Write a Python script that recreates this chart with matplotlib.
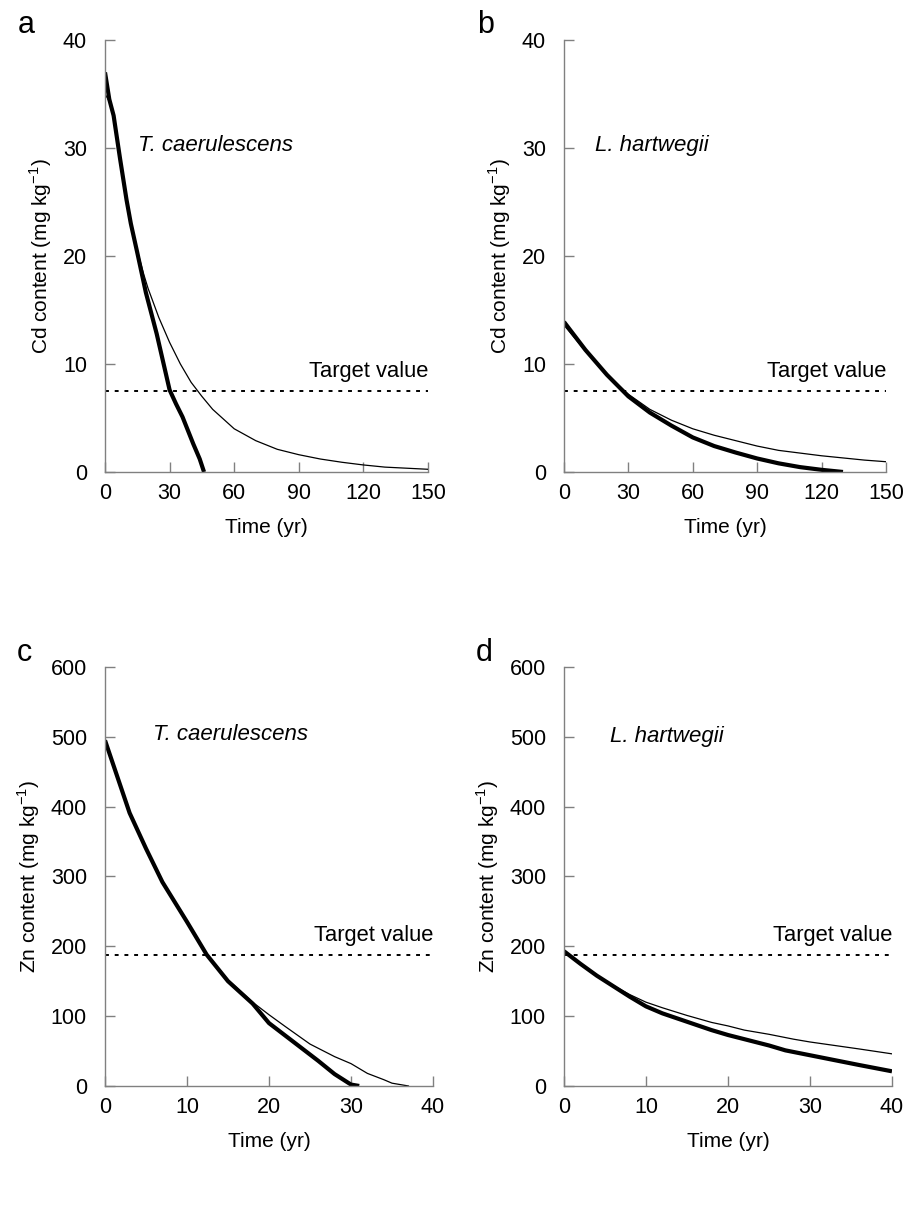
import numpy as np
import matplotlib
matplotlib.use("Agg")
import matplotlib.pyplot as plt

plt.rcParams["font.family"] = ["Liberation Sans", "DejaVu Sans"]

# ================================================================================================
# Data
# ================================================================================================
# a: Cd, T. caerulescens
a_thick_t = [0, 2, 4, 7, 10, 12, 15, 19, 24, 27, 30, 33, 36, 39, 41, 44, 46]
a_thick_c = [37.0, 34.5, 33.0, 29.0, 25.2, 23.0, 20.3, 16.6, 12.8, 10.2, 7.6, 6.3, 5.1, 3.6, 2.6, 1.2, 0.0]
a_thin_t = [0, 2, 4, 7, 10, 12, 15, 18, 20, 25, 30, 35, 40, 45, 50, 60, 70, 80, 90, 100, 110, 120, 130, 140, 150]
a_thin_c = [35.0, 34.3, 33.0, 29.0, 25.2, 23.0, 20.5, 18.3, 17.0, 14.3, 12.0, 10.0, 8.3, 7.0, 5.8,
            4.0, 2.9, 2.1, 1.6, 1.2, 0.9, 0.65, 0.45, 0.35, 0.25]

# b: Cd, L. hartwegii
b_thick_t = [0, 10, 20, 30, 40, 50, 60, 70, 80, 90, 100, 110, 120, 130]
b_thick_c = [13.9, 11.3, 9.0, 7.0, 5.5, 4.3, 3.2, 2.4, 1.8, 1.25, 0.8, 0.45, 0.2, 0.0]
b_thin_t = [0, 10, 20, 30, 40, 50, 60, 70, 80, 90, 100, 110, 120, 130, 140, 150]
b_thin_c = [13.6, 11.2, 9.0, 7.2, 5.8, 4.8, 4.0, 3.4, 2.9, 2.4, 2.0, 1.75, 1.5, 1.3, 1.1, 0.95]

# c: Zn, T. caerulescens
c_thick_t = [0, 3, 5, 7, 10, 12.4, 15, 18, 20, 22, 24, 26, 28, 30, 31]
c_thick_c = [495, 391, 340, 292, 235, 188, 150, 118, 90, 72, 54, 36, 17, 2, 0]
c_thin_t = [0, 3, 5, 7, 10, 12.4, 15, 18, 20, 22, 25, 28, 30, 32, 34, 35, 37]
c_thin_c = [495, 391, 340, 292, 235, 188, 152, 120, 102, 85, 60, 42, 32, 18, 9, 4, 0]

# d: Zn, L. hartwegii
d_thick_t = [0, 2, 4, 6, 8, 10, 12, 15, 18, 20, 22, 25, 27, 30, 33, 36, 40]
d_thick_c = [193, 175, 158, 143, 128, 114, 104, 92, 80, 73, 67, 58, 51, 44, 37, 30, 21]
d_thin_t = [0, 2, 4, 6, 8, 10, 12, 15, 18, 20, 22, 25, 28, 30, 33, 36, 40]
d_thin_c = [193, 175, 158, 144, 131, 120, 112, 101, 91, 86, 80, 74, 67, 63, 58, 53, 46]

cd_target = 7.5
zn_target = 188

# ================================================================================================
# Panels
# ================================================================================================
panels = [
    ("a", [0.1145, 0.6125, 0.3522, 0.3547], a_thick_t, a_thick_c, a_thin_t, a_thin_c,
     150, [0, 30, 60, 90, 120, 150], 40, [0, 10, 20, 30, 40], cd_target, "Cd",
     "T. caerulescens", (15.4, 30.2)),
    ("b", [0.615, 0.6125, 0.3511, 0.3547], b_thick_t, b_thick_c, b_thin_t, b_thin_c,
     150, [0, 30, 60, 90, 120, 150], 40, [0, 10, 20, 30, 40], cd_target, "Cd",
     "L. hartwegii", (14.4, 30.2)),
    ("c", [0.1145, 0.1084, 0.3577, 0.344], c_thick_t, c_thick_c, c_thin_t, c_thin_c,
     40, [0, 10, 20, 30, 40], 600, [0, 100, 200, 300, 400, 500, 600], zn_target, "Zn",
     "T. caerulescens", (5.9, 504)),
    ("d", [0.615, 0.1084, 0.3577, 0.344], d_thick_t, d_thick_c, d_thin_t, d_thin_c,
     40, [0, 10, 20, 30, 40], 600, [0, 100, 200, 300, 400, 500, 600], zn_target, "Zn",
     "L. hartwegii", (5.6, 500)),
]

fig = plt.figure(figsize=(9.17, 12.18), dpi=100)

for (letter, rect, tk_t, tk_c, tn_t, tn_c, xmax, xticks, ymax, yticks,
     target, metal, species, sp_pos) in panels:
    ax = fig.add_axes(rect)
    ax.plot(tn_t, tn_c, color="black", lw=0.9, solid_joinstyle="round")
    ax.plot(tk_t, tk_c, color="black", lw=3.0, solid_capstyle="butt")
    ax.plot([0, xmax], [target, target], color="black", lw=1.4, ls=(0, (2, 3)))
    ax.text(xmax, target + ymax * 0.02, "Target value", ha="right", va="bottom", fontsize=15.8)
    ax.text(sp_pos[0], sp_pos[1], species, style="italic", ha="left", va="center", fontsize=16)

    ax.set_xlim(0, xmax)
    ax.set_ylim(0, ymax)
    ax.set_xticks(xticks)
    ax.set_yticks(yticks)
    for s in ["top", "right"]:
        ax.spines[s].set_visible(False)
    for s in ["left", "bottom"]:
        ax.spines[s].set_color("#808080")
        ax.spines[s].set_linewidth(1.0)
    ax.tick_params(axis="both", direction="in", length=7, width=1.0, color="#808080",
                   labelsize=15.5)
    ax.tick_params(axis="x", pad=8)
    ax.tick_params(axis="y", pad=13)
    ax.set_xlabel("Time (yr)", fontsize=15, labelpad=10)
    ax.set_ylabel(metal + " content (mg kg$^{\\mathregular{-1}}$)", fontsize=15, labelpad=6)
    ax.text(-0.27, 1.07, letter, transform=ax.transAxes, fontsize=22, ha="left", va="top")

plt.savefig("out.png", dpi=100)
